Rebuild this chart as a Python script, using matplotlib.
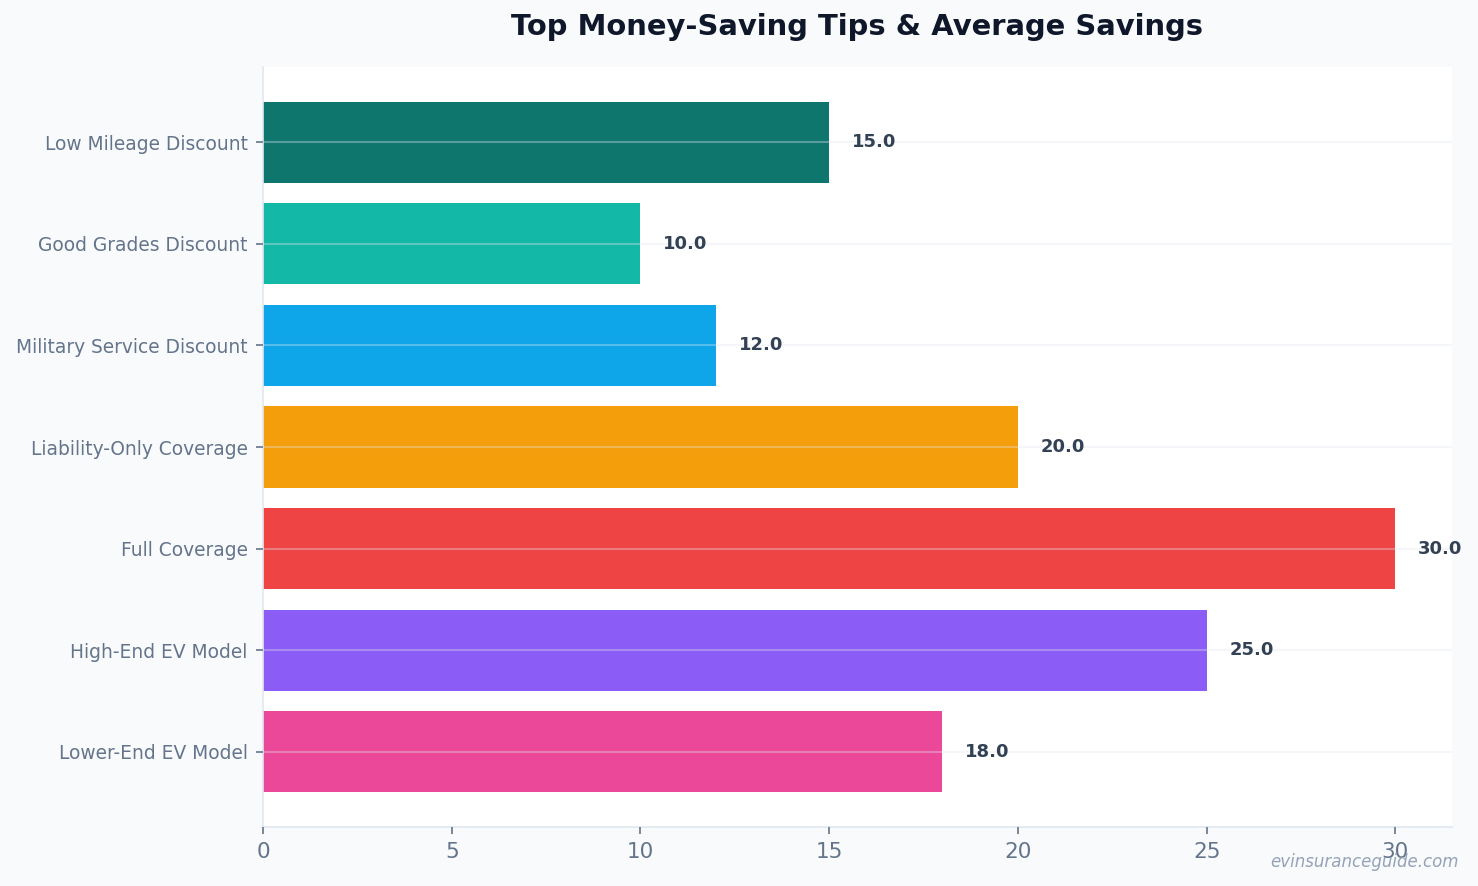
import matplotlib
matplotlib.use('Agg')
import matplotlib.pyplot as plt

plt.rcParams['font.family'] = ['DejaVu Sans']

# Chart data
tips = ['Low Mileage Discount', 'Good Grades Discount', 'Military Service Discount',
        'Liability-Only Coverage', 'Full Coverage', 'High-End EV Model', 'Lower-End EV Model']
savings = [15.0, 10.0, 12.0, 20.0, 30.0, 25.0, 18.0]
bar_colors = ['#0f766e', '#14b8a6', '#0ea5e9', '#f59e0b', '#ef4444', '#8b5cf6', '#ec4899']

fig = plt.figure(figsize=(14.78, 8.86), dpi=100, facecolor='#f8fafc')
ax = fig.add_axes([263 / 1478, 1 - 827 / 886, (1452 - 263) / 1478, (827 - 67) / 886])
ax.set_facecolor('white')

ypos = list(range(len(tips)))
ax.barh(ypos, savings, height=0.8, color=bar_colors)
ax.invert_yaxis()
ax.set_yticks(ypos)
ax.set_yticklabels(tips, fontsize=13.4, color='#64748b')
ax.set_xlim(0, 31.5)

# value labels next to each bar
for y, v in zip(ypos, savings):
    ax.text(v + 0.6, y, f'{v:.1f}', va='center', ha='left', fontsize=13,
            fontweight='bold', color='#334155')

# faint grid drawn on top of the bars
ax.set_axisbelow(False)
ax.grid(axis='y', color='#e2e8f0', alpha=0.35, linewidth=1.5)
ax.grid(axis='x', visible=False)

for side in ['top', 'right']:
    ax.spines[side].set_visible(False)
for side in ['left', 'bottom']:
    ax.spines[side].set_color('#e2e8f0')
    ax.spines[side].set_linewidth(1.2)

ax.tick_params(axis='x', labelsize=15.5, colors='#64748b', length=5, width=1.2, pad=6)
ax.tick_params(axis='y', colors='#64748b', length=5, width=1.2, pad=6)

fig.text(857 / 1478, 1 - 27 / 886, 'Top Money-Saving Tips & Average Savings', ha='center', va='center',
         fontsize=20.9, fontweight='bold', color='#0f172a')

fig.text(1459 / 1478, 1 - 862 / 886, 'evinsuranceguide.com', ha='right', va='center',
         fontsize=12, style='italic', color='#94a3b8')

fig.savefig('out.png', dpi=100, facecolor=fig.get_facecolor())
